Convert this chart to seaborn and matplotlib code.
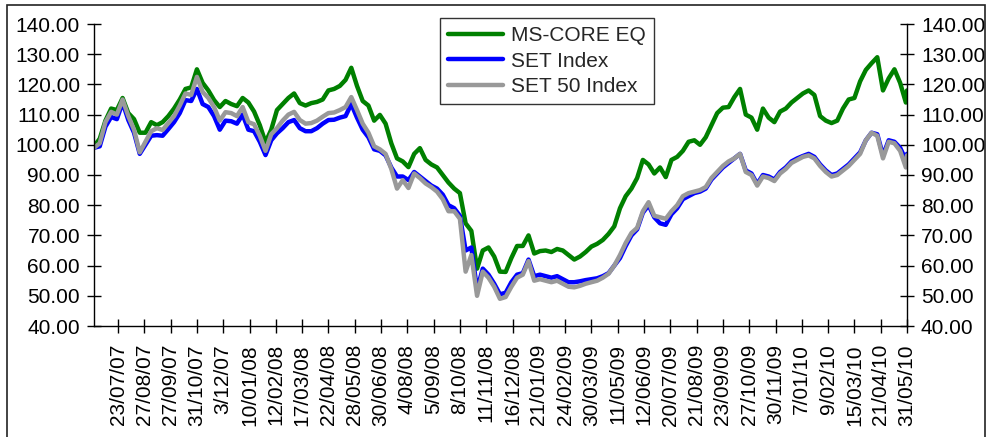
import numpy as np
import pandas as pd
import matplotlib
matplotlib.use("Agg")
import matplotlib.pyplot as plt
from matplotlib.patches import Rectangle
from matplotlib.ticker import FormatStrFormatter
import seaborn as sns

# trading-day index (weekly samples)
day = list(range(0, 711, 5)) + [711]

ms_core = [
    99.5, 102, 108, 112, 111.5, 115.5, 110.5, 108.5, 104, 104,
    107.5, 106.5, 107.5, 109.5, 112, 115, 118.5, 119, 125, 120.5,
    118, 114.8, 112.5, 114.5, 113.5, 112.8, 115.5, 114, 111, 106.5,
    100.8, 105, 111.5, 113.5, 115.5, 117, 113.8, 113, 113.8, 114.2,
    115, 118, 118.5, 119.5, 121.5, 125.5, 119.5, 114.5, 113, 108,
    109.9, 107, 100.5, 95.5, 94.5, 92.6, 97, 98.9, 95, 93.5,
    92.5, 90, 87.5, 85.5, 84, 74, 71.5, 59, 65, 66,
    63, 58, 57.9, 62.5, 66.5, 66.5, 70, 64, 64.8, 65,
    64.5, 65.5, 65, 63.5, 62, 63, 64.5, 66.3, 67.2, 68.5,
    70.5, 73, 79, 83, 85.5, 89, 95, 93.5, 90.5, 92.5,
    89.3, 95, 96, 98, 101, 101.5, 100, 102.5, 106.5, 110.5,
    112.3, 112.5, 115.8, 118.5, 110, 109, 105, 112, 109, 107.5,
    111, 112, 114, 115.5, 117, 118, 116.5, 109.5, 108, 107.2,
    108, 112, 115, 115.5, 121, 124.8, 127, 129, 118, 122,
    125, 120.5, 114, 118,
]

set_index = [
    99, 99.5, 106, 109.2, 108.5, 114, 108.2, 104, 97, 100,
    103, 103.2, 103, 105.2, 107.5, 110.5, 114.8, 114.5, 118.5, 113.5,
    112.5, 109.5, 105, 108, 107.8, 107, 110, 105, 104.5, 101,
    96.6, 101.5, 103.8, 105.5, 107.5, 108.2, 105.5, 104.5, 104.5, 105.5,
    107, 108.2, 108.3, 109, 109.5, 113.5, 109, 105, 102.5, 98.5,
    98, 96.5, 92.5, 89.5, 89.5, 88.3, 91, 89.5, 88, 86.5,
    85.5, 83.5, 80, 79, 76.5, 65, 66, 52, 59, 57,
    54, 50.5, 51, 54.5, 57, 57.5, 62, 56.5, 57, 56.5,
    56, 56.5, 55.5, 54.5, 54.5, 54.8, 55.2, 55.5, 55.8, 56.5,
    57.5, 60, 62.5, 66.5, 70, 72, 77.5, 80, 76, 74,
    73.5, 77, 79, 82, 83, 84, 84.5, 85.5, 88.5, 90.5,
    92.5, 94, 95.5, 97, 91.5, 90.5, 87, 90, 89.5, 88.5,
    91, 92.5, 94.5, 95.5, 96.3, 97, 96, 93.5, 91.5, 90,
    90.5, 92, 93.5, 95.5, 97.5, 101.5, 104, 103.5, 96.5, 101.5,
    101, 99, 95, 97,
]

set50 = [
    99, 100.5, 107.5, 110.9, 110, 115, 109.5, 105, 97.5, 101,
    104.5, 105.5, 104.9, 107.2, 109.5, 113, 117, 116.5, 122.5, 117.5,
    115.5, 112.5, 108, 110.8, 110.5, 109.5, 112.5, 107.5, 106.8, 103,
    98, 103.5, 105.5, 108, 110, 110.9, 108.2, 107, 107.2, 108,
    109.3, 110.5, 110.7, 111.5, 112.5, 115.8, 111.5, 107, 104, 99.5,
    98.5, 97, 92, 85.5, 88.3, 85.7, 90.5, 89, 87.2, 86,
    84.5, 82, 78, 78, 75.5, 58, 63.5, 50, 58, 56,
    53, 49, 49.6, 53, 56, 57, 61.5, 55, 55.5, 55,
    54.5, 55, 54, 53, 52.8, 53.3, 54, 54.5, 55, 56,
    57.3, 60, 63.5, 67.5, 70.8, 72.5, 78, 81, 76.5, 76,
    75.5, 78, 80, 83, 84, 84.5, 85, 86, 89, 91,
    93, 94.5, 95.5, 97, 91, 90, 86.5, 89.5, 89, 88,
    90.5, 92, 94, 95, 96, 96.5, 95.5, 93, 91, 89.5,
    90, 91.5, 93, 95, 97, 101.5, 104, 103, 95.5, 101,
    100.5, 98, 92.5, 96.5,
]

tick_labels = [
    '23/07/07', '27/08/07', '27/09/07', '31/10/07', '3/12/07', '10/01/08',
    '12/02/08', '17/03/08', '22/04/08', '28/05/08', '30/06/08', '4/08/08',
    '5/09/08', '8/10/08', '11/11/08', '16/12/08', '21/01/09', '24/02/09',
    '30/03/09', '11/05/09', '12/06/09', '20/07/09', '21/08/09', '23/09/09',
    '27/10/09', '30/11/09', '7/01/10', '9/02/10', '15/03/10', '21/04/10',
    '31/05/10',
]
tick_day = [21 + 23 * i for i in range(len(tick_labels))]

series = ['MS-CORE EQ', 'SET Index', 'SET 50 Index']
colors = ['#008000', '#0000FF', '#999999']

df = pd.DataFrame({'day': day, 'MS-CORE EQ': ms_core,
                   'SET Index': set_index, 'SET 50 Index': set50})
long = df.melt(id_vars='day', var_name='series', value_name='value')

sns.set_style('white')
plt.rcParams['font.family'] = ['Liberation Sans', 'DejaVu Sans']

W, H = 993, 437
fig = plt.figure(figsize=(W / 100, H / 100), dpi=100)
ax = fig.add_axes([94 / W, 1 - 326 / H, (907 - 94) / W, (326 - 24) / H])

sns.lineplot(data=long, x='day', y='value', hue='series', hue_order=series,
             palette=colors, linewidth=3.2, estimator=None, ax=ax)

ax.set_xlim(0, 711)
ax.set_ylim(40, 140)
ax.set_yticks(np.arange(40, 141, 10))
ax.yaxis.set_major_formatter(FormatStrFormatter('%.2f'))
ax.set_xticks(tick_day)
ax.set_xticklabels(tick_labels, rotation=90)
ax.set_xlabel('')
ax.set_ylabel('')

ax.tick_params(axis='y', left=True, right=True, labelleft=True, labelright=True,
               direction='inout', length=10, width=1, labelsize=15, pad=5,
               colors='black')
ax.tick_params(axis='x', bottom=True, direction='inout', length=10, width=1,
               labelsize=15, pad=8, colors='black')

ax.spines['top'].set_visible(False)
for s in ['left', 'bottom', 'right']:
    ax.spines[s].set_visible(True)
    ax.spines[s].set_color('black')
    ax.spines[s].set_linewidth(1)

handles, labels = ax.get_legend_handles_labels()
leg = ax.legend(handles, labels, loc='upper left',
                bbox_to_anchor=(440 / W, 1 - 18 / H), bbox_transform=fig.transFigure,
                frameon=True, fancybox=False, edgecolor='black', fontsize=15,
                handlelength=2.6, handletextpad=0.4, labelspacing=0.3,
                borderpad=0.4, borderaxespad=0)
leg.get_frame().set_linewidth(1)
for ln in leg.get_lines():
    ln.set_linewidth(3.2)

# chart-area border
fig.add_artist(Rectangle((7 / W, -0.05), (985 - 7) / W, 1.05 - 5 / H,
                         transform=fig.transFigure, fill=False,
                         edgecolor='#222222', linewidth=1.2))

fig.savefig('out.png', dpi=100)
